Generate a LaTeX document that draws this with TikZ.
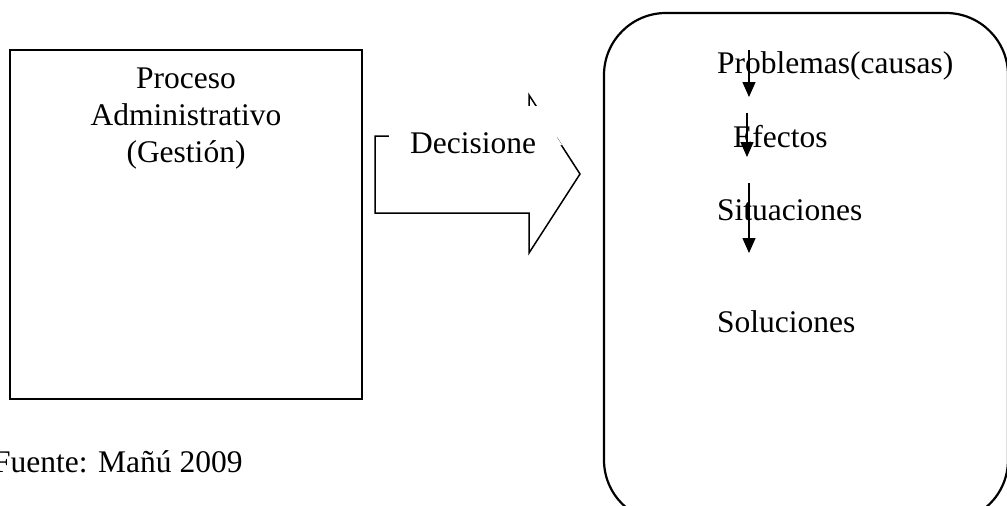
\documentclass[tikz,border=0pt]{standalone}
\usepackage{fontspec}
\setmainfont{Liberation Serif}
\usetikzlibrary{arrows.meta}
\begin{document}
\begin{tikzpicture}[x=1pt,y=-1pt,
  txt/.style={inner sep=0pt,anchor=base west,font=\fontsize{31.5}{37}\selectfont},
  ctxt/.style={inner sep=0pt,anchor=base,font=\fontsize{31.5}{37}\selectfont},
  frame/.style={draw=black,line width=2.2pt},
  flow/.style={draw=black,line width=1.4pt,-{Triangle[width=13pt,length=15pt]}},
  bigarrow/.style={draw=black,line width=1.5pt,line join=miter}]
\useasboundingbox (0,0) rectangle (1007,506);
\begin{scope}
\clip (0,0) rectangle (1007,506);
% left box
\node[frame,minimum width=352pt,minimum height=349pt,inner sep=0pt] (proc) at (186,224.5) {};
\node[ctxt] (t1) at (186,88) {Proceso};
\node[ctxt] (t2) at (186,125) {Administrativo};
\node[ctxt] (t3) at (186,162) {(Gestión)};
% big arrow
\draw[bigarrow] (390,136) -- (375,136) -- (375,213) -- (529,213) -- (529,253) -- (580,174) -- (529,95) -- (529,136) -- cycle;
\fill[white] (389,106) rectangle (557,200);
\fill[white] (542,115) -- (557,115) -- (557,145) -- (562,145) -- cycle;
\node[txt] (dec) at (410,153) {Decisione};
% rounded frame
\draw[frame,rounded corners=62pt] (604,13) rectangle (1008,522);
\node[txt] (p1) at (717,73) {Problemas(causas)};
\node[txt] (p2) at (733,147) {Efectos};
\node[txt] (p3) at (717,220) {Situaciones};
\node[txt] (p4) at (717,332) {Soluciones};
\coordinate (a1s) at (749,50); \coordinate (a1e) at (749,97);
\coordinate (a2s) at (747,113); \coordinate (a2e) at (747,157);
\coordinate (a3s) at (749,183); \coordinate (a3e) at (749,253);
\draw[flow] (a1s) -- (a1e);
\draw[flow] (a2s) -- (a2e);
\draw[flow] (a3s) -- (a3e);
\node[txt] (src) at (-7,472) {Fuente: Mañú 2009};
\end{scope}
\end{tikzpicture}
\end{document}
